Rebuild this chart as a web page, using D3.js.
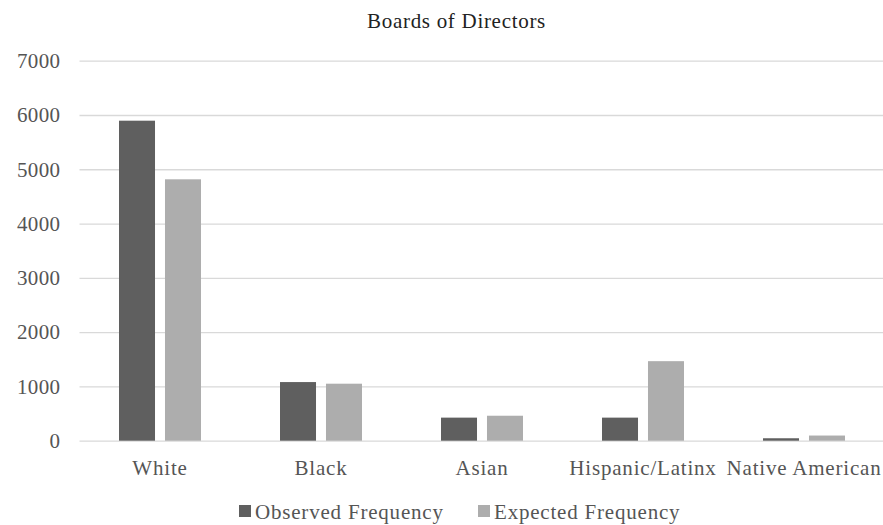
<!DOCTYPE html>
<html>
<head>
<meta charset="utf-8">
<script src="https://cdn.jsdelivr.net/npm/d3@7"></script>
<style>
  html, body { margin: 0; padding: 0; background: #ffffff; }
  svg { display: block; font-family: "Liberation Serif", "Times New Roman", serif; }
</style>
</head>
<body>
<svg id="chart" width="883" height="525"></svg>
<script>
const categories = ["White", "Black", "Asian", "Hispanic/Latinx", "Native American"];
const seriesNames = ["Observed Frequency", "Expected Frequency"];
const observed = [5895, 1080, 425, 425, 45];
const expected = [4815, 1050, 460, 1465, 95];
const yTicks = [0, 1000, 2000, 3000, 4000, 5000, 6000, 7000];
const seriesColors = ["#5f5f5f", "#adadad"];

const svg = d3.select("#chart");
const W = 883, H = 525;
const plot = { left: 79.5, right: 884.5, top: 60.7, bottom: 440.7 };
const FONT = "Liberation Serif, Times New Roman, serif";

const x0 = d3.scaleBand().domain(categories).range([plot.left, plot.right]).padding(0);
const x1 = d3.scaleBand().domain(seriesNames).range([0, x0.bandwidth()])
  .paddingInner(0.217).paddingOuter(0.859);
const y = d3.scaleLinear().domain([0, 7000]).range([plot.bottom, plot.top]);

// title
svg.append("text")
  .attr("x", W / 2 + 15).attr("y", 28)
  .attr("text-anchor", "middle")
  .attr("font-size", 21).attr("letter-spacing", 0.7).attr("fill", "#222222")
  .text("Boards of Directors");

// horizontal gridlines + y tick labels
const yAxis = d3.axisLeft(y).tickValues(yTicks).tickSize(-(W - plot.left)).tickPadding(19)
  .tickFormat(d3.format("d"));
const gy = svg.append("g").attr("transform", `translate(${plot.left},0)`).call(yAxis);
gy.select(".domain").remove();
gy.selectAll(".tick line").attr("stroke", "#d9d9d9").attr("stroke-width", 1.3);
gy.selectAll(".tick text")
  .attr("font-family", FONT)
  .attr("font-size", 21).attr("letter-spacing", 0.4).attr("fill", "#555555");

// bars
const rows = categories.map((c, i) => ({ cat: c, values: [observed[i], expected[i]] }));
const groups = svg.append("g").selectAll("g").data(rows).join("g")
  .attr("transform", d => `translate(${x0(d.cat)},0)`);
groups.selectAll("rect")
  .data(d => d.values.map((v, k) => ({ key: seriesNames[k], value: v, k })))
  .join("rect")
  .attr("x", d => x1(d.key))
  .attr("width", x1.bandwidth())
  .attr("y", d => y(d.value))
  .attr("height", d => y(0) - y(d.value))
  .attr("fill", d => seriesColors[d.k]);

// category labels
const xAxis = d3.axisBottom(x0).tickSize(0).tickPadding(19);
const gx = svg.append("g").attr("transform", `translate(0,${plot.bottom})`).call(xAxis);
gx.select(".domain").remove();
gx.selectAll(".tick text")
  .attr("font-family", FONT)
  .attr("font-size", 21).attr("letter-spacing", 0.8).attr("fill", "#555555");

// legend
const legendItems = [
  { name: seriesNames[0], color: seriesColors[0], x: 239 },
  { name: seriesNames[1], color: seriesColors[1], x: 478 }
];
const lg = svg.append("g").selectAll("g").data(legendItems).join("g")
  .attr("transform", d => `translate(${d.x},0)`);
lg.append("rect").attr("x", 0).attr("y", 505).attr("width", 12).attr("height", 12)
  .attr("fill", d => d.color);
lg.append("text").attr("x", 16).attr("y", 519)
  .attr("font-size", 21).attr("letter-spacing", 0.8).attr("fill", "#555555")
  .text(d => d.name);
</script>
</body>
</html>
